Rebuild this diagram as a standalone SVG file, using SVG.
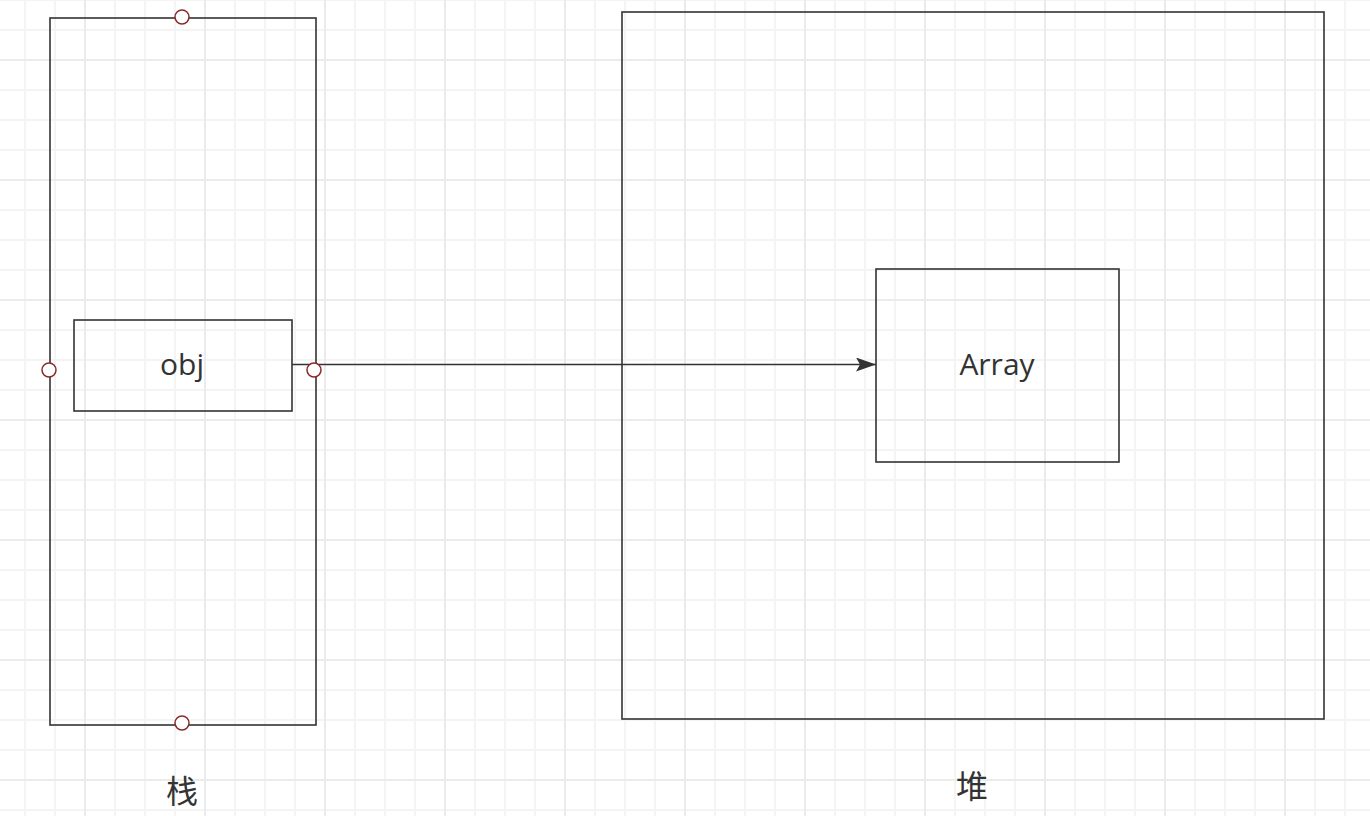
<svg xmlns="http://www.w3.org/2000/svg" width="1370" height="816" viewBox="0 0 1370 816">
  <style>
    .box { fill: none; stroke: #333333; stroke-width: 1.6; }
    .pt { fill: #ffffff; stroke: #8b2a2a; stroke-width: 1.5; }
    .lbl { font-family: "Open Sans", "Noto Sans", sans-serif; font-size: 30px; fill: #333333; text-anchor: middle; }
    .cjk { font-family: "Noto Sans CJK SC", "Noto Sans", sans-serif; font-size: 32px; fill: #333333; text-anchor: middle; }
    .edge { fill: none; stroke: #333333; stroke-width: 1.6; }
  </style>
  <defs>
    <pattern id="minor" patternUnits="userSpaceOnUse" x="0" y="15" width="30" height="30">
      <rect x="24" y="0" width="2" height="30" fill="#f4f4f4"/>
      <rect x="0" y="14" width="30" height="2" fill="#f4f4f4"/>
    </pattern>
    <pattern id="major" patternUnits="userSpaceOnUse" x="0" y="0" width="120" height="120">
      <rect x="84" y="0" width="2" height="120" fill="#ebebeb"/>
      <rect x="0" y="59" width="120" height="2" fill="#ebebeb"/>
    </pattern>
    <marker id="arrow" markerUnits="userSpaceOnUse" markerWidth="22" markerHeight="16" refX="20" refY="7" orient="auto">
      <path d="M0,0 L20,7 L0,14 L4,7 Z" fill="#333333"/>
    </marker>
  </defs>
  <rect width="1370" height="816" fill="#ffffff"/>
  <rect width="1370" height="816" fill="url(#minor)"/>
  <rect width="1370" height="816" fill="url(#major)"/>

  <g id="stack">
    <rect class="box" x="50" y="18" width="266" height="707"/>
    <text class="cjk" x="182" y="803">栈</text>
  </g>
  <g id="heap">
    <rect class="box" x="622" y="12" width="702" height="707"/>
    <text class="cjk" x="972" y="798">堆</text>
  </g>
  <g id="obj">
    <rect class="box" x="74" y="320" width="218" height="91"/>
    <text class="lbl" x="182" y="375">obj</text>
  </g>
  <g id="array">
    <rect class="box" x="876" y="269" width="243" height="193"/>
    <text class="lbl" x="997" y="375">Array</text>
  </g>
  <g id="connectors">
    <line class="edge" x1="292" y1="364.5" x2="876" y2="364.5" marker-end="url(#arrow)"/>
  </g>
  <g id="stack-points">
    <circle class="pt" cx="182" cy="17" r="7"/>
    <circle class="pt" cx="49" cy="370" r="7"/>
    <circle class="pt" cx="314" cy="370" r="7"/>
    <circle class="pt" cx="182" cy="723" r="7"/>
  </g>
</svg>
